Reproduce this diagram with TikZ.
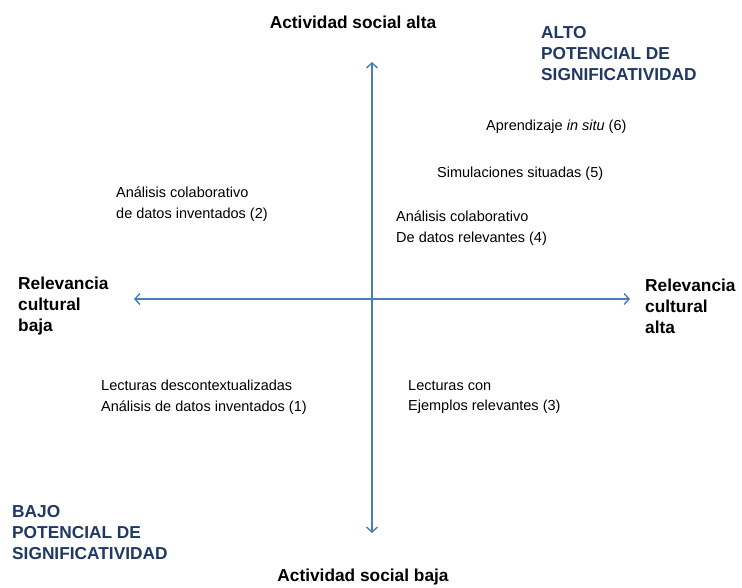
\documentclass[tikz,border=0pt]{standalone}
\usepackage{fontspec}
\setmainfont{Liberation Sans}
\usetikzlibrary{arrows.meta}
\definecolor{axisblue}{RGB}{74,126,187}
\definecolor{navy}{RGB}{31,56,100}
\begin{document}
\begin{tikzpicture}[x=1pt,y=-1pt,
        axis/.style={draw=axisblue,line width=1.4pt,{Straight Barb[length=5pt,width=11pt]}-{Straight Barb[length=5pt,width=11pt]}},
        axislabel/.style={font=\fontsize{17.3}{21}\selectfont\bfseries,align=left,inner sep=0pt},
        potencial/.style={axislabel,text=navy,anchor=west},
        item/.style={font=\fontsize{14.5}{20.5}\selectfont,align=left,inner sep=0pt,anchor=west},
        ]
        \useasboundingbox (0,0) rectangle (742,587);
        \coordinate (north) at (372,62);
        \coordinate (south) at (372,533);
        \coordinate (west) at (134,299);
        \coordinate (east) at (630,299);
        \draw[axis] (south) -- (north);
        \draw[axis] (west) -- (east);
        % axis labels
        \node[axislabel] (socialalta) at (353,22) {Actividad social alta};
        \node[axislabel] (socialbaja) at (363,577) {Actividad social baja};
        \node[axislabel,anchor=west] (culturalbaja) at (18,306) {Relevancia\\cultural\\baja};
        \node[axislabel,anchor=west] (culturalalta) at (645,306) {Relevancia\\cultural\\alta};
        \node[potencial] (alto) at (541,54) {ALTO\\POTENCIAL DE\\SIGNIFICATIVIDAD};
        \node[potencial] (bajo) at (12,533) {BAJO\\POTENCIAL DE\\SIGNIFICATIVIDAD};
        % activities
        \node[item] (insitu) at (486,127) {Aprendizaje \textit{in situ} (6)};
        \node[item] (simulaciones) at (437,174) {Simulaciones situadas (5)};
        \node[item] (colabrelev) at (396,228) {Análisis colaborativo\\De datos relevantes (4)};
        \node[item] (colabinv) at (116,204) {Análisis colaborativo\\de datos inventados (2)};
        \node[item] (lecturasdesc) at (101,397) {Lecturas descontextualizadas\\Análisis de datos inventados (1)};
        \node[item] (lecturascon) at (408,397) {Lecturas con\\Ejemplos relevantes (3)};
\end{tikzpicture}
\end{document}
